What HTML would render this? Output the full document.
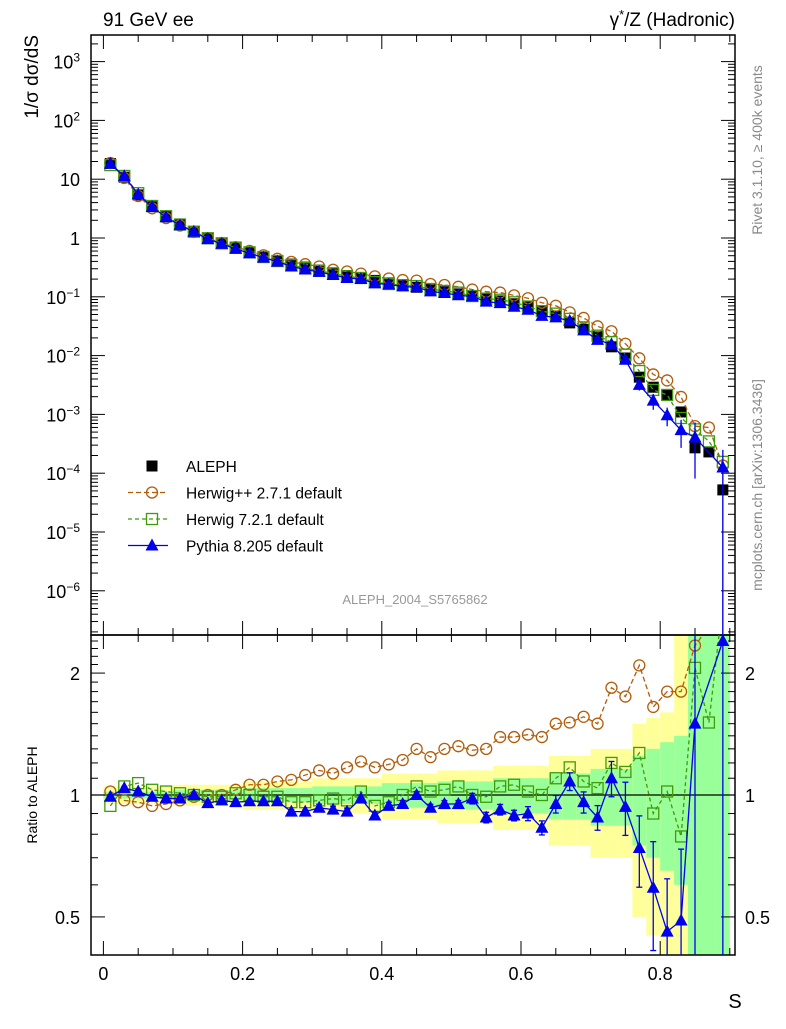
<!DOCTYPE html>
<html><head><meta charset="utf-8"><style>
body{margin:0;background:#fff;}
svg text{font-family:"Liberation Sans",sans-serif;}
</style></head><body>
<svg id="c" width="786" height="1024" xmlns="http://www.w3.org/2000/svg"></svg>
<script>
const xVals=[0.01,0.03,0.05,0.07,0.09,0.11,0.13,0.15,0.17,0.19,0.21,0.23,0.25,0.27,0.29,0.31,0.33,0.35,0.37,0.39,0.41,0.43,0.45,0.47,0.49,0.51,0.53,0.55,0.57,0.59,0.61,0.63,0.65,0.67,0.69,0.71,0.73,0.75,0.77,0.79,0.81,0.83,0.85,0.87,0.89];
const aleph=[18.5,10.8,5.4,3.4,2.3,1.68,1.28,1.0,0.82,0.68,0.57,0.48,0.41,0.36,0.32,0.285,0.255,0.23,0.205,0.19,0.172,0.158,0.145,0.133,0.122,0.112,0.103,0.094,0.085,0.076,0.067,0.057,0.047,0.036,0.028,0.021,0.0141,0.0091,0.0043,0.0029,0.0021,0.0011,0.00027,0.00023,0.000052];
const alephMainErr=[0,0,0,0,0,0,0,0,0,0,0,0,0,0,0,0,0,0,0,0,0,0,0,0,0,0,0,0,0,0,0,0,0,0,0,0,0,0,0,0,0,0,0.1,0.1,1.0];
const alephTotErr=[0.05,0.05,0.05,0.05,0.05,0.06,0.06,0.06,0.06,0.06,0.08,0.08,0.08,0.08,0.08,0.1,0.1,0.1,0.1,0.1,0.13,0.13,0.13,0.13,0.15,0.15,0.15,0.15,0.18,0.18,0.18,0.18,0.25,0.25,0.25,0.3,0.3,0.3,0.5,0.55,0.6,3.0,3.0,3.0,3.0];
const alephStatErr=[0.02,0.02,0.02,0.02,0.02,0.03,0.03,0.03,0.03,0.03,0.04,0.04,0.04,0.04,0.04,0.05,0.05,0.05,0.05,0.05,0.07,0.07,0.07,0.07,0.08,0.08,0.08,0.08,0.1,0.1,0.1,0.1,0.13,0.13,0.13,0.16,0.16,0.16,0.25,0.3,0.35,0.4,3.0,3.0,3.0];
const hppRatio=[1.02,0.97,0.96,0.94,0.95,0.97,0.99,1.0,1.0,1.03,1.06,1.06,1.08,1.09,1.12,1.15,1.13,1.17,1.21,1.17,1.19,1.22,1.30,1.24,1.30,1.32,1.29,1.30,1.39,1.39,1.41,1.39,1.50,1.51,1.56,1.50,1.84,1.75,2.09,1.65,1.80,1.80,2.34,2.6,2.6];
const h7Ratio=[0.94,1.05,1.07,1.03,1.02,1.01,1.0,0.99,0.99,1.01,1.0,0.99,0.99,0.96,0.96,0.97,0.98,0.97,1.02,0.94,0.96,1.0,1.05,1.02,1.03,1.05,1.0,0.99,1.05,1.06,1.02,1.0,1.10,1.17,1.08,1.04,1.20,1.14,1.27,0.90,1.02,0.79,2.06,1.51,3.0];
const pyRatio=[0.99,1.04,1.02,0.99,0.98,0.98,1.0,0.955,0.97,0.96,0.965,0.965,0.965,0.91,0.91,0.93,0.92,0.91,0.98,0.89,0.94,0.95,1.0,0.93,0.95,0.95,0.98,0.88,0.92,0.89,0.90,0.83,0.95,1.08,0.96,0.88,1.10,0.935,0.74,0.59,0.46,0.49,1.50,null,2.4];
const pyErr=[0.01,0.01,0.01,0.01,0.01,0.01,0.01,0.01,0.01,0.01,0.01,0.01,0.01,0.01,0.01,0.02,0.02,0.02,0.02,0.02,0.02,0.02,0.02,0.02,0.02,0.02,0.03,0.03,0.03,0.03,0.04,0.04,0.05,0.05,0.06,0.07,0.1,0.15,0.2,0.3,0.35,0.5,0.8,0,1.0];
const mainTicks=["10<tspan dy='-7' font-size='12'>3</tspan>","10<tspan dy='-7' font-size='12'>2</tspan>","10","1","10<tspan dy='-7' font-size='12'>−1</tspan>","10<tspan dy='-7' font-size='12'>−2</tspan>","10<tspan dy='-7' font-size='12'>−3</tspan>","10<tspan dy='-7' font-size='12'>−4</tspan>","10<tspan dy='-7' font-size='12'>−5</tspan>","10<tspan dy='-7' font-size='12'>−6</tspan>"];
const mainTickExp=[3,2,1,0,-1,-2,-3,-4,-5,-6];
const xTickVals=[0,0.2,0.4,0.6,0.8];
const xTickLabels=["0","0.2","0.4","0.6","0.8"];
const ratioTickVals=[2,1,0.5];
const ratioTickLabels=["2","1","0.5"];

const L=91,R=735,T1=35,B1=635,T2=635,B2=955;
const X=v=>103.4+696*v;
const Y=v=>238-58.8*Math.log10(v);
const YR=r=>795-405*Math.log10(r);
const svg=document.getElementById('c');
function el(tag,attrs,parent){const e=document.createElementNS('http://www.w3.org/2000/svg',tag);for(const k in attrs)e.setAttribute(k,attrs[k]);(parent||svg).appendChild(e);return e;}
const clipR=r=>Math.max(T2,Math.min(B2,YR(r)));
const clipM=v=>v<=0?B1:Math.max(T1,Math.min(B1,Y(v)));

const defs=el('defs',{});
const cp1=el('clipPath',{id:'cm'},defs);el('rect',{x:L,y:T1,width:R-L,height:B1-T1},cp1);
const cp2=el('clipPath',{id:'cr'},defs);el('rect',{x:L,y:T2,width:R-L,height:B2-T2},cp2);

const gBand=el('g',{'clip-path':'url(#cr)'});

xVals.forEach((x,i)=>{
  const x0=X(x-0.01),x1=X(x+0.01);
  let e=alephTotErr[i];let y0=clipR(1+e),y1=e>=1?B2:clipR(1-e);
  const b=el('rect',{x:x0,y:y0,width:x1-x0,height:y1-y0,fill:'#ffff99'},gBand);
  
  e=alephStatErr[i];y0=clipR(1+e);y1=e>=1?B2:clipR(1-e);
  const g=el('rect',{x:x0,y:y0,width:x1-x0,height:y1-y0,fill:'#99ff99'},gBand);
  
});
el('line',{x1:L,x2:R,y1:YR(1),y2:YR(1),stroke:'#000','stroke-width':1.2});

el('rect',{x:L,y:T1,width:R-L,height:B1-T1,fill:'none',stroke:'#000','stroke-width':1.5});
el('rect',{x:L,y:T2,width:R-L,height:B2-T2,fill:'none',stroke:'#000','stroke-width':1.5});

for(let v=-0.0;v<=0.9001;v+=0.05){
  const major=Math.abs(v/0.2-Math.round(v/0.2))<1e-6;const len=major?14:7;const x=X(v);
  [[T1,1],[B1,-1],[T2,1],[B2,-1]].forEach(([y,d])=>el('line',{x1:x,x2:x,y1:y,y2:y+d*len,stroke:'#000','stroke-width':1}));
}
xTickVals.forEach((v,i)=>{const t=el('text',{x:X(v),y:980,'font-size':18,'text-anchor':'middle'});t.textContent=xTickLabels[i];
});
for(let e=-7;e<=3;e++){for(let m=1;m<10;m++){const v=m*Math.pow(10,e);const y=Y(v);if(y<T1||y>B1)continue;const len=m==1?14:7;
 el('line',{x1:L,x2:L+len,y1:y,y2:y,stroke:'#000'});el('line',{x1:R,x2:R-len,y1:y,y2:y,stroke:'#000'});}}
mainTickExp.forEach((e,i)=>{const t=el('text',{x:80,y:Y(Math.pow(10,e))+7,'font-size':18,'text-anchor':'end'});t.innerHTML=mainTicks[i];
});
[0.4,0.5,0.6,0.7,0.8,0.9,1,1.1,1.2,1.3,1.4,1.5,1.6,1.7,1.8,1.9,2,2.1,2.2,2.3,2.4].forEach(r=>{const y=YR(r);if(y<T2||y>B2)return;const maj=(r==0.5||r==1||r==2);const len=maj?14:7;
 el('line',{x1:L,x2:L+len,y1:y,y2:y,stroke:'#000'});el('line',{x1:R,x2:R-len,y1:y,y2:y,stroke:'#000'});});
ratioTickVals.forEach((r,i)=>{[[80,'end'],[745,'start']].forEach(([x,a])=>{const t=el('text',{x:x,y:YR(r)+7,'font-size':18,'text-anchor':a});t.textContent=ratioTickLabels[i];
});});

const styles={hpp:{c:'#b25c0a',dash:'5,3'},h7:{c:'#3f9b0a',dash:'4,3'},py:{c:'#0000ee',dash:''}};
function marker(kind,x,y,g){
  let m;
  if(kind=='data')m=el('rect',{x:x-5.5,y:y-5.5,width:11,height:11,fill:'#000'},g);
  else if(kind=='hpp')m=el('circle',{cx:x,cy:y,r:5.5,fill:'none',stroke:styles.hpp.c,'stroke-width':1.3},g);
  else if(kind=='h7')m=el('rect',{x:x-5.5,y:y-5.5,width:11,height:11,fill:'none',stroke:styles.h7.c,'stroke-width':1.3},g);
  else m=el('path',{d:`M${x},${y-7}L${x+6.5},${y+5}L${x-6.5},${y+5}Z`,fill:'#0000ee'},g);
  
}
const gm=el('g',{'clip-path':'url(#cm)'});
const gr=el('g',{'clip-path':'url(#cr)'});

function series(kind,ratios,errs){
  const st=styles[kind];let pm='',pr='';
  xVals.forEach((x,i)=>{const r=ratios[i];if(r==null)return;const v=aleph[i]*r;
    pm+=(pm?'L':'M')+X(x)+','+Y(v);pr+=(pr?'L':'M')+X(x)+','+YR(r);});
  const l1=el('path',{d:pm,fill:'none',stroke:st.c,'stroke-width':1.3,'stroke-dasharray':st.dash},gm);
  
  const l2=el('path',{d:pr,fill:'none',stroke:st.c,'stroke-width':1.3,'stroke-dasharray':st.dash},gr);
  
  xVals.forEach((x,i)=>{const r=ratios[i];if(r==null)return;const v=aleph[i]*r;
    if(errs&&errs[i]>0){const e=errs[i];
      if(e>=0.1)el('line',{x1:X(x),x2:X(x),y1:clipM(v*(1+e)),y2:clipM(e>=1?0:v*(1-e)),stroke:st.c,'stroke-width':1.3},gm);
      el('line',{x1:X(x),x2:X(x),y1:clipR(r*(1+e)),y2:e>=1?B2:clipR(r*(1-e)),stroke:st.c,'stroke-width':1.3},gr);
      [r*(1+e),r*(1-e)].forEach(q=>{if(q>0)el('line',{x1:X(x)-3,x2:X(x)+3,y1:YR(q),y2:YR(q),stroke:st.c,'stroke-width':1.3},gr);});}
    marker(kind,X(x),Y(v),gm);marker(kind,X(x),Math.min(YR(r),B2+20),gr);});
}
xVals.forEach((x,i)=>{const e=alephMainErr[i];
  if(e>0)el('line',{x1:X(x),x2:X(x),y1:clipM(aleph[i]*(1+e)),y2:clipM(e>=1?0:aleph[i]*(1-e)),stroke:'#000'},gm);
  marker('data',X(x),Y(aleph[i]),gm);});
series('hpp',hppRatio,null);
series('h7',h7Ratio,null);
series('py',pyRatio,pyErr);

const legend=[['data','ALEPH'],['hpp','Herwig++ 2.7.1 default'],['h7','Herwig 7.2.1 default'],['py','Pythia 8.205 default']];
const gl=el('g',{});
legend.forEach(([k,name],i)=>{const y=466+i*26.5;
  if(k!='data'){el('line',{x1:128,x2:168,y1:y,y2:y,stroke:styles[k].c,'stroke-width':1.3,'stroke-dasharray':styles[k].dash},gl);}
  marker(k,152,y,gl);
  const t=el('text',{x:186,y:y+6,'font-size':15.5},gl);t.textContent=name;
  });

function txt(s,attrs,name){const t=el('text',attrs);t.textContent=s;return t;}
txt('91 GeV ee',{x:103,y:26,'font-size':19},'energy-label');
const pt=el('text',{x:735,y:26,'font-size':19,'text-anchor':'end'});pt.innerHTML='γ<tspan dy="-7" font-size="13">*</tspan><tspan dy="7">/Z (Hadronic)</tspan>';

txt('ALEPH_2004_S5765862',{x:415,y:604,'font-size':13,fill:'#999','text-anchor':'middle'},'analysis-id');
txt('S',{x:735,y:1008,'font-size':20,'text-anchor':'middle'},'x-axis-title');
const yl=el('text',{x:0,y:0,'font-size':19,'text-anchor':'end',transform:'translate(38,35) rotate(-90)'});yl.textContent='1/σ  dσ/dS';

txt('Ratio to ALEPH',{x:0,y:0,'font-size':14,'text-anchor':'middle',transform:'translate(37,795) rotate(-90)'},'ratio-axis-title');
txt('Rivet 3.1.10, ≥ 400k events',{x:0,y:0,'font-size':14,fill:'#888','text-anchor':'middle',transform:'translate(762,150) rotate(-90)'},'rivet-label');
txt('mcplots.cern.ch [arXiv:1306.3436]',{x:0,y:0,'font-size':14,fill:'#888','text-anchor':'middle',transform:'translate(762,485) rotate(-90)'},'mcplots-label');
</script>
</body></html>
